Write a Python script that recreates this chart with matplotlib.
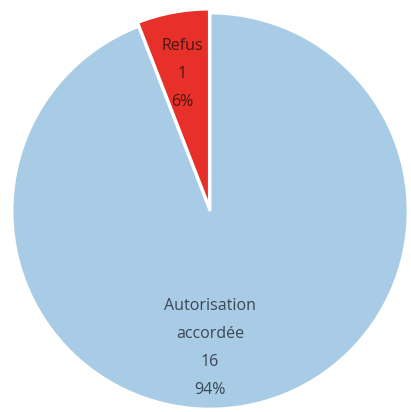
import matplotlib.pyplot as plt

# Données
categories = ['Autorisation\naccordée', 'Refus']
valeurs = [16, 1]
couleurs = ['#A9CCE6', '#E8302A']
couleurs_texte = ['#3B4652', '#4A1512']

total = sum(valeurs)
etiquettes = [f"{c}\n{v}\n{round(v / total * 100)}%" for c, v in zip(categories, valeurs)]

fig = plt.figure(figsize=(4.11, 4.12), dpi=100)
ax = fig.add_axes([0, 0, 1, 1])

wedges, textes = ax.pie(valeurs, colors=couleurs, startangle=90, counterclock=False,
                        explode=[0, 0.02], labels=etiquettes, labeldistance=0.7,
                        wedgeprops=dict(edgecolor='white', linewidth=2),
                        textprops=dict(ha='center', va='center', fontsize=11.5,
                                       family='Open Sans', linespacing=2.0))
for t, c in zip(textes, couleurs_texte):
    t.set_color(c)

# positions des étiquettes comme dans l'original
textes[0].set_position((0.0, -0.69))
textes[1].set_position((-0.14, 0.69))

ax.set_xlim(-1.061, 1.015)
ax.set_ylim(-1.015, 1.066)
ax.set_aspect('auto')
ax.axis('off')

fig.savefig('out.png', dpi=100)
